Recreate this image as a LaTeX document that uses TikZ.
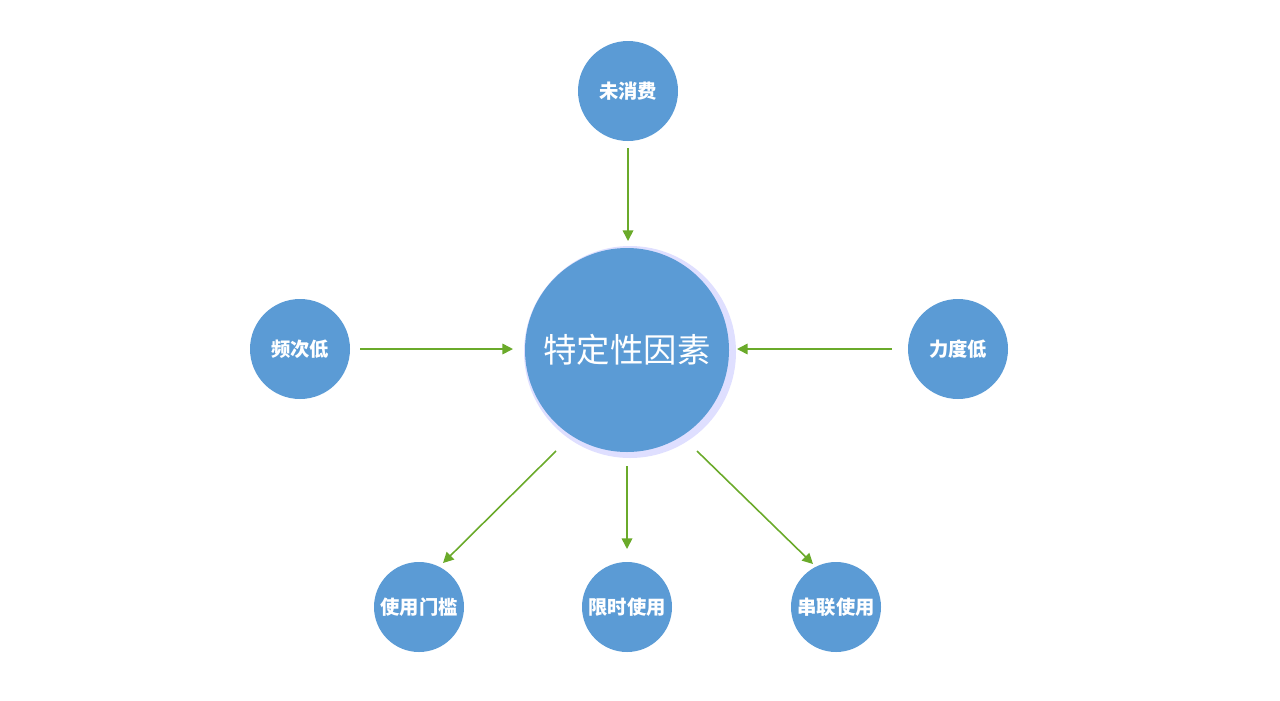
\documentclass[tikz,border=0pt]{standalone}
\usepackage{fontspec}
\newfontfamily\cjk{Noto Sans CJK SC}
\usetikzlibrary{arrows.meta}
\definecolor{cblue}{HTML}{5B9BD5}
\definecolor{cgreen}{HTML}{6AAA2A}
\begin{document}
\begin{tikzpicture}[x=0.02cm,y=-0.02cm,
  bub/.style={circle,fill=cblue,text=white,font=\cjk\bfseries\fontsize{11}{13}\selectfont,inner sep=0pt},
  arr/.style={draw=cgreen,line width=0.9pt,-{Triangle[length=6pt,width=6pt]}}]
\useasboundingbox (0,0) rectangle (1280,700);
\fill[blue!25,opacity=0.5] (630,352) circle (106);
\node[bub,minimum size=204*0.02cm,font=\cjk\fontsize{19}{22}\selectfont] (c) at (627,350) {特定性因素};
\node[bub,minimum size=100*0.02cm] (t) at (628,91) {未消费};
\node[bub,minimum size=100*0.02cm] (l) at (300,349) {频次低};
\node[bub,minimum size=100*0.02cm] (r) at (958,349) {力度低};
\node[bub,minimum size=90*0.02cm] (b1) at (419,607) {使用门槛};
\node[bub,minimum size=90*0.02cm] (b2) at (627,607) {限时使用};
\node[bub,minimum size=90*0.02cm] (b3) at (836,607) {串联使用};
\coordinate (ts) at (628,148); \coordinate (te) at (628,241);
\coordinate (ls) at (360,349); \coordinate (le) at (513,349);
\coordinate (rs) at (892,349); \coordinate (re) at (737,349);
\coordinate (s1) at (556,451); \coordinate (e1) at (443,563);
\coordinate (s2) at (627,466); \coordinate (e2) at (627,549);
\coordinate (s3) at (697,451); \coordinate (e3) at (813,564);
\draw[arr] (ts) -- (te);
\draw[arr] (ls) -- (le);
\draw[arr] (rs) -- (re);
\draw[arr] (s1) -- (e1);
\draw[arr] (s2) -- (e2);
\draw[arr] (s3) -- (e3);
\end{tikzpicture}
\end{document}
